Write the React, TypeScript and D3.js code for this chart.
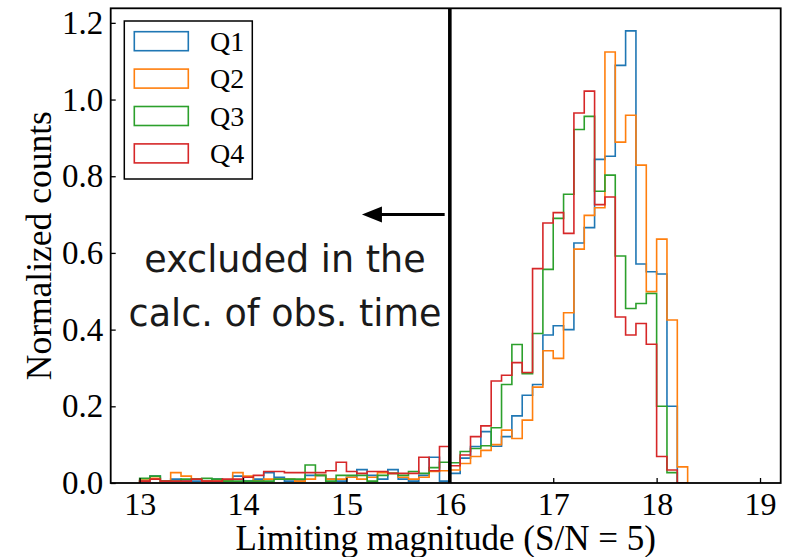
import React, { useRef, useEffect } from "react";
import * as d3 from "d3";

// bins: left edges 13.0, 13.1, ... 18.2 (width 0.1)
const binStart = 13.0;
const binWidth = 0.1;

const q1 = [
  0.005, 0.018, 0.005, 0.01, 0.005, 0.005, 0.005, 0.01, 0.005, 0.018,
  0.005, 0.01, 0.027, 0.015, 0.005, 0.005, 0.02, 0.02, 0.01, 0.005,
  0.015, 0.035, 0.02, 0.01, 0.035, 0.01, 0.005, 0.02, 0.067, 0.005,
  0.025, 0.065, 0.095, 0.134, 0.096, 0.121, 0.175, 0.229, 0.257, 0.386,
  0.41, 0.4, 0.626, 0.666, 0.844, 0.852, 1.089, 1.179, 0.571, 0.551,
  0.545, 0.2, 0,
];
const q2 = [
  0.008, 0.012, 0.005, 0.027, 0.018, 0.01, 0.005, 0.005, 0.008, 0.027,
  0.018, 0.005, 0.01, 0.01, 0.01, 0.005, 0.01, 0.02, 0.01, 0.01,
  0.015, 0.01, 0.015, 0.027, 0.025, 0.015, 0.01, 0.015, 0.03, 0.032,
  0.034, 0.051, 0.069, 0.085, 0.1, 0.138, 0.116, 0.164, 0.25, 0.345,
  0.325, 0.444, 0.61, 0.698, 0.718, 1.124, 0.889, 0.959, 0.829, 0.499,
  0.636, 0.425, 0.042,
];
const q3 = [
  0.012, 0.018, 0.005, 0.005, 0.01, 0.01, 0.012, 0.01, 0.005, 0.005,
  0.005, 0.005, 0.005, 0.01, 0.01, 0.01, 0.047, 0.02, 0.005, 0.02,
  0.02, 0.02, 0.005, 0.02, 0.025, 0.02, 0.03, 0.025, 0.04, 0.054,
  0.053, 0.082, 0.09, 0.097, 0.144, 0.257, 0.361, 0.285, 0.39, 0.557,
  0.69, 0.753, 0.922, 0.956, 0.761, 0.803, 0.592, 0.455, 0.468, 0.494,
  0.2, 0.027, 0,
];
const q4 = [
  0.005, 0.01, 0.005, 0.005, 0.005, 0.01, 0.005, 0.005, 0.01, 0.01,
  0.015, 0.02, 0.03, 0.03, 0.027, 0.027, 0.027, 0.027, 0.032, 0.054,
  0.03, 0.025, 0.03, 0.03, 0.025, 0.025, 0.025, 0.067, 0.032, 0.095,
  0.045, 0.073, 0.121, 0.149, 0.266, 0.281, 0.314, 0.288, 0.559, 0.678,
  0.705, 0.651, 0.965, 1.022, 0.726, 0.746, 0.433, 0.386, 0.416, 0.362,
  0.069, 0.034, 0,
];

const seriesNames = ["Q1", "Q2", "Q3", "Q4"];
const seriesValues = [q1, q2, q3, q4];
const colors = ["#1f77b4", "#ff7f0e", "#2ca02c", "#d62728"];

const xTicks = [13, 14, 15, 16, 17, 18, 19];
const yTicks = [0, 0.2, 0.4, 0.6, 0.8, 1.0, 1.2];

const cutMag = 16;
const arrowFrom = 15.95;
const arrowTo = 15.15;
const arrowLevel = 0.7;
const noteLines = ["excluded in the", "calc. of obs. time"];

const App = () => {
  const svgRef = useRef<SVGSVGElement>(null);

  useEffect(() => {
    const svg = d3.select(svgRef.current);
    svg.selectAll("*").remove();

    const width = 787;
    const height = 557;
    const margin = { top: 8.3, right: 6.3, bottom: 74, left: 110.7 };
    const serif = "'Liberation Serif', 'Times New Roman', serif";

    const yMax = d3.max(seriesValues.flat())! * 1.05;

    const x = d3
      .scaleLinear()
      .domain([12.72, 19.2])
      .range([margin.left, width - margin.right]);

    const y = d3
      .scaleLinear()
      .domain([0, yMax])
      .range([height - margin.bottom, margin.top]);

    // step outlines (histtype="step")
    const line = d3
      .line<[number, number]>()
      .x((d) => x(d[0]))
      .y((d) => y(d[1]));

    const stepPoints = (vals: number[]) => {
      const pts: [number, number][] = [[binStart, 0]];
      vals.forEach((v, i) => {
        const x0 = binStart + i * binWidth;
        pts.push([x0, v], [x0 + binWidth, v]);
      });
      pts.push([binStart + vals.length * binWidth, 0]);
      return pts;
    };

    svg
      .append("defs")
      .append("clipPath")
      .attr("id", "plot-clip")
      .append("rect")
      .attr("x", margin.left)
      .attr("y", margin.top)
      .attr("width", width - margin.left - margin.right)
      .attr("height", height - margin.top - margin.bottom);

    const marks = svg.append("g").attr("clip-path", "url(#plot-clip)");
    seriesValues.forEach((vals, k) => {
      marks
        .append("path")
        .attr("d", line(stepPoints(vals)))
        .attr("fill", "none")
        .attr("stroke", colors[k])
        .attr("stroke-width", 1.6)
        .attr("stroke-linejoin", "miter");
    });

    // vertical cut line
    svg
      .append("line")
      .attr("x1", x(cutMag))
      .attr("x2", x(cutMag))
      .attr("y1", y(0))
      .attr("y2", margin.top)
      .attr("stroke", "black")
      .attr("stroke-width", 3.6);

    // arrow
    const ay = y(arrowLevel);
    const tipX = x(arrowTo);
    svg
      .append("line")
      .attr("x1", x(arrowFrom))
      .attr("x2", tipX + 16)
      .attr("y1", ay)
      .attr("y2", ay)
      .attr("stroke", "black")
      .attr("stroke-width", 3);
    svg
      .append("path")
      .attr("d", `M${tipX},${ay} L${tipX + 20},${ay - 8} L${tipX + 20},${ay + 8} Z`)
      .attr("fill", "black");

    const note = svg
      .append("text")
      .attr("text-anchor", "middle")
      .attr("font-family", "'DejaVu Sans', sans-serif")
      .attr("font-size", 36.5)
      .attr("fill", "#1a1a1a");
    noteLines.forEach((t, i) => {
      note
        .append("tspan")
        .attr("x", 285)
        .attr("y", 272 + i * 54)
        .text(t);
    });

    // axes
    const xAxis = svg
      .append("g")
      .attr("transform", `translate(0,${y(0)})`)
      .call(
        d3
          .axisBottom(x)
          .tickValues(xTicks)
          .tickSizeInner(-5)
          .tickSizeOuter(0)
          .tickPadding(9)
          .tickFormat(d3.format("d"))
      );
    xAxis.select(".domain").remove();
    xAxis.selectAll("line").attr("stroke-width", 1.3);
    xAxis
      .selectAll("text")
      .attr("font-family", serif)
      .attr("font-size", 32)
      .attr("fill", "black");

    const yAxis = svg
      .append("g")
      .attr("transform", `translate(${margin.left},0)`)
      .call(
        d3
          .axisLeft(y)
          .tickValues(yTicks)
          .tickSizeInner(-5)
          .tickSizeOuter(0)
          .tickPadding(7.5)
          .tickFormat(d3.format(".1f"))
      );
    yAxis.select(".domain").remove();
    yAxis.selectAll("line").attr("stroke-width", 1.3);
    yAxis
      .selectAll("text")
      .attr("font-family", serif)
      .attr("font-size", 33)
      .attr("fill", "black");

    // frame
    svg
      .append("rect")
      .attr("x", margin.left)
      .attr("y", margin.top)
      .attr("width", width - margin.left - margin.right)
      .attr("height", height - margin.top - margin.bottom)
      .attr("fill", "none")
      .attr("stroke", "black")
      .attr("stroke-width", 1.8);

    // axis labels
    svg
      .append("text")
      .attr("x", (margin.left + width - margin.right) / 2)
      .attr("y", 550)
      .attr("text-anchor", "middle")
      .attr("font-family", serif)
      .attr("font-size", 35)
      .text("Limiting magnitude (S/N = 5)");

    svg
      .append("text")
      .attr("transform", `translate(51,${(margin.top + y(0)) / 2}) rotate(-90)`)
      .attr("text-anchor", "middle")
      .attr("font-family", serif)
      .attr("font-size", 35.5)
      .text("Normalized counts");

    // legend
    const legend = svg.append("g");
    legend
      .append("rect")
      .attr("x", 124.3)
      .attr("y", 21)
      .attr("width", 128)
      .attr("height", 158)
      .attr("fill", "white")
      .attr("stroke", "black")
      .attr("stroke-width", 1.5);
    seriesNames.forEach((name, k) => {
      const top = 31.7 + k * 37.4;
      legend
        .append("rect")
        .attr("x", 134.3)
        .attr("y", top)
        .attr("width", 54)
        .attr("height", 19)
        .attr("fill", "none")
        .attr("stroke", colors[k])
        .attr("stroke-width", 1.6);
      legend
        .append("text")
        .attr("x", 210)
        .attr("y", top + 19)
        .attr("font-family", serif)
        .attr("font-size", 28)
        .text(name);
    });
  }, []);

  return (
    <svg
      ref={svgRef}
      width={787}
      height={557}
      style={{ position: "absolute", left: 0, top: 0, background: "white" }}
    ></svg>
  );
};

export default App;
